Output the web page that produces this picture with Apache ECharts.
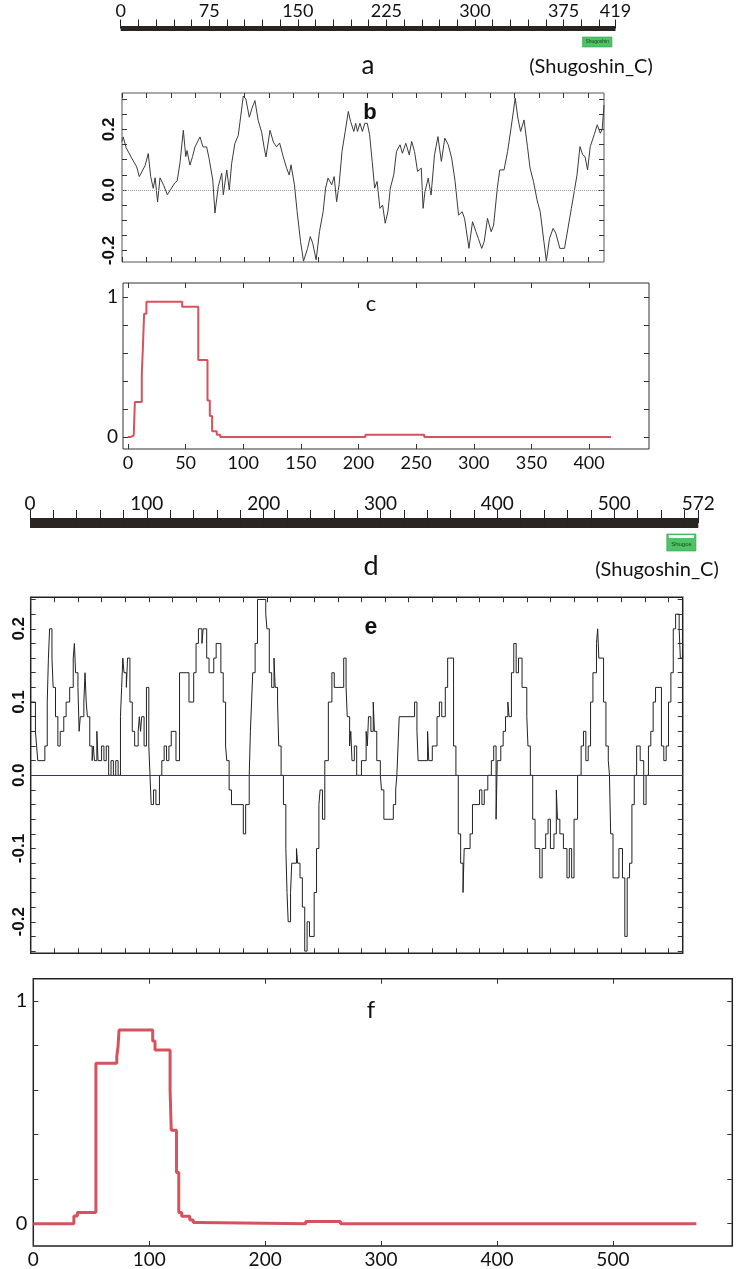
<!DOCTYPE html>
<html>
<head>
<meta charset="utf-8">
<script src="https://cdn.jsdelivr.net/npm/echarts@6/dist/echarts.min.js"></script>
<style>
html, body { margin: 0; padding: 0; background: #fff; }
#main { width: 737px; height: 1269px; }
</style>
</head>
<body>
<div id="main"></div>
<script>
var chart = echarts.init(document.getElementById('main'));

// protein lengths, bar tick labels and the Pfam domain
var aLength = 419;
var aLabels = [0, 75, 150, 225, 300, 375, 419];
var dLength = 572;
var dLabels = [0, 100, 200, 300, 400, 500, 572];
var domainName = 'Shugoshin_C';
var domainA = [391, 416];
var domainD = [545, 570];

// b: hydropathy profile [position, value]
var bPoints = [[0,0.16],[1,0.175],[3.3,0.14],[7.9,0.105],[12,0.076],[14.1,0.044],[18.8,0.08],[21.4,0.12],[23.4,0.044],[25.5,0.005],
  [27,0.04],[29,-0.04],[31,0.04],[34,0.015],[37,-0.016],[43,0.023],[45,0.03],[47.3,0.09],[50,0.197],[52,0.11],
  [53,0.13],[55.4,0.082],[57.5,0.11],[59.5,0.142],[63.6,0.175],[66,0.142],[69,0.142],[71,0.104],[74,0.033],[75.8,-0.076],
  [78.5,0.011],[81.3,0.055],[82.6,-0.016],[85.4,0.066],[87.5,0],[89.4,0.087],[92,0.153],[94.8,0.18],[98.9,0.31],[101,0.3],
  [103.8,0.24],[106,0.27],[108.4,0.295],[111,0.23],[113.9,0.19],[115.8,0.142],[117.4,0.109],[120.7,0.197],[123.4,0.158],[126,0.142],
  [128.5,0.155],[131.5,0.109],[134.3,0.071],[136.4,0.049],[137.8,0.083],[140.6,0.017],[142.8,-0.072],[145.6,-0.171],[148,-0.235],[151.3,-0.193],
  [153.5,-0.154],[155.5,-0.176],[158.3,-0.231],[161,-0.138],[164,-0.072],[166,0.006],[168,0.039],[171,0.017],[173,0.044],[175,-0.039],
  [177,0.017],[179.4,0.127],[182,0.193],[184.5,0.259],[186.4,0.226],[189,0.193],[190.5,0.22],[192,0.193],[194,0.22],[196,0.193],
  [198,0.22],[200,0.22],[201.9,0.182],[204,0.094],[206,0.006],[208,0.028],[210.3,-0.061],[212.5,-0.05],[214.6,-0.11],[216.8,-0.072],
  [218.8,0.006],[221.6,0.05],[223.8,0.127],[226.7,0.149],[228.6,0.121],[231.4,0.154],[234.2,0.116],[236.2,0.16],[238.5,0.127],[241,0.061],
  [244,0.072],[245.5,-0.061],[247,-0.006],[249.7,0.039],[252,-0.017],[254.8,0.116],[257.6,0.176],[260.4,0.094],[263.2,0.171],[266,0.149],
  [268.8,0.105],[271.6,0.028],[274.4,-0.083],[277.3,-0.072],[279.3,-0.094],[282.9,-0.193],[285.8,-0.105],[288.6,-0.138],[290.5,-0.16],[293.3,-0.193],
  [295.3,-0.171],[298,-0.094],[301,-0.138],[303,-0.116],[306,0.006],[308,0.066],[311.5,0.066],[314.4,0.127],[317.2,0.204],[320.6,0.303],
  [322.8,0.237],[325,0.193],[327.8,0.231],[330.6,0.143],[332.7,0.072],[335.5,0.028],[338.4,-0.033],[341,-0.072],[344,-0.171],[346,-0.235],
  [348.6,-0.16],[351.5,-0.127],[353.7,-0.143],[357,-0.193],[360.8,-0.193],[363.6,-0.127],[366.4,-0.061],[369.2,0.006],[371,0.05],[373.4,0.143],
  [375.6,0.116],[377.5,0.11],[379.6,0.066],[381.8,0.143],[385,0.182],[387.5,0.215],[390,0.187],[391.5,0.2],[393,0.28]];

// c: disorder probability, [start position, value] steps
var cSteps = [[0,0],[2,0.01],[5,0.02],[6,0.25],[12,0.45],[13,0.65],[14,0.88],[16,0.966],[47,0.93],[61,0.55],
  [69,0.26],[71,0.15],[73,0.04],[77,0.015],[80,0],[206,0.015],[257,0],[419,0]];

// e: hydropathy profile, [start position, value] steps
var eSteps = [[0,0.1],[4,0.06],[5,0.04],[6,0.02],[12,0.04],[14,0.1],[15,0.16],[16,0.2],[18,0.16],[19,0.12],
  [21,0.08],[23,0.04],[25,0.06],[28,0.08],[30,0.1],[33,0.12],[36,0.16],[37,0.18],[38,0.14],[40,0.12],
  [41,0.06],[42,0.08],[45,0.1],[46,0.14],[47,0.1],[48,0.08],[50,0.04],[52,0.02],[53,0.04],[54,0.02],
  [56,0.06],[57,0.02],[60,0.04],[62,0.02],[64,0.04],[66,0],[68,0.02],[70,0],[72,0.02],[74,0],
  [76,0.08],[77,0.12],[78,0.16],[79,0.14],[81,0.12],[82,0.16],[84,0.1],[86,0.06],[88,0.04],[91,0.06],
  [92,0.08],[93,0.06],[94,0.08],[96,0.04],[98,0.12],[100,0.04],[101,0],[102,-0.04],[104,-0.02],[106,-0.04],
  [109,0],[111,0.02],[113,0.04],[115,0.02],[117,0.04],[119,0.06],[123,0.02],[126,0.14],[134,0.1],[138,0.14],
  [140,0.18],[142,0.2],[145,0.18],[146,0.2],[149,0.16],[151,0.14],[155,0.16],[157,0.18],[161,0.14],[163,0.1],
  [165,0.04],[166,0.02],[168,-0.02],[170,-0.04],[180,-0.08],[182,-0.04],[185,0],[186,0.06],[187,0.1],[188,0.14],
  [190,0.18],[192,0.24],[199,0.22],[200,0.2],[202,0.14],[204,0.12],[206,0.16],[207,0.12],[209,0.1],[210,0.04],
  [212,0],[214,-0.04],[216,-0.1],[217,-0.16],[218,-0.2],[220,-0.16],[221,-0.12],[225,-0.1],[226,-0.12],[228,-0.14],
  [230,-0.18],[232,-0.24],[234,-0.2],[236,-0.22],[240,-0.16],[242,-0.1],[244,-0.04],[245,-0.02],[247,-0.06],[249,0.02],
  [252,0.1],[255,0.14],[257,0.12],[265,0.16],[267,0.12],[268,0.08],[270,0.04],[271,0.06],[272,0.02],[274,0.04],
  [276,0],[280,0.02],[284,0.06],[285,0.04],[286,0.08],[288,0.06],[290,0.1],[291,0.06],[293,0.02],[296,0],
  [297,-0.02],[299,-0.06],[307,-0.04],[309,-0.02],[310,0],[311,0.04],[312,0.08],[325,0.1],[327,0.06],[328,0.02],
  [336,0.06],[337,0.02],[340,0.04],[344,0.08],[346,0.1],[348,0.08],[351,0.12],[353,0.16],[358,0.04],[360,0],
  [362,-0.08],[364,-0.12],[366,-0.16],[367,-0.1],[372,-0.08],[374,-0.04],[380,-0.02],[382,-0.04],[384,-0.02],[387,0],
  [390,0.02],[392,0.04],[394,-0.06],[395,0.02],[398,0.04],[400,0.06],[402,0.08],[404,0.1],[405,0.08],[407,0.14],
  [409,0.18],[411,0.14],[413,0.16],[416,0.12],[420,0.08],[421,0.04],[423,0],[425,-0.06],[427,-0.1],[431,-0.14],
  [433,-0.1],[436,-0.08],[438,-0.06],[440,-0.1],[443,-0.08],[445,-0.02],[446,-0.06],[448,-0.08],[451,-0.1],[454,-0.14],
  [456,-0.1],[458,-0.14],[460,-0.06],[463,0],[466,0.04],[468,0.06],[470,0.02],[472,0.04],[474,0.1],[476,0.14],
  [479,0.18],[480,0.2],[481,0.16],[485,0.1],[487,0.04],[489,0.02],[490,0],[491,-0.08],[493,-0.14],[498,-0.1],
  [501,-0.14],[503,-0.22],[505,-0.14],[507,-0.12],[509,-0.04],[511,0],[513,0.04],[516,0.02],[519,-0.04],[521,0],
  [523,0.04],[525,0.06],[527,0.1],[529,0.12],[534,0.04],[536,0.02],[538,0.04],[540,0.1],[542,0.14],[544,0.2],
  [546,0.22],[549,0.2],[550,0.16],[552,0.18]];

// f: disorder probability, [start position, value] steps
var fSteps = [[0,0],[35,0.035],[38,0.05],[54,0.72],[72,0.75],[73,0.79],[74,0.87],[103,0.82],[105,0.78],[118,0.6],
  [119,0.42],[123.5,0.23],[125.5,0.05],[128,0.033],[135,0.017],[138,0.005],[143,0],[235,0.01],[265,0],[572,0]];

function seq(a, b, s) {
  var out = [];
  for (var v = a; v <= b + 1e-9; v += s) out.push(+v.toFixed(4));
  return out;
}

var frame = { show: true, borderColor: '#333', borderWidth: 1, backgroundColor: 'transparent' };
var grids = [
  { left: 120.7, top: 28.5, width: 494.8, height: 20 },
  Object.assign({ left: 122, top: 93, width: 482, height: 169 }, frame, { borderColor: '#555' }),
  Object.assign({ left: 123, top: 283, width: 526, height: 166 }, frame),
  { left: 30, top: 523, width: 668.3, height: 30 },
  Object.assign({ left: 30.7, top: 597.3, width: 652, height: 356 }, frame, { borderWidth: 1.5, borderColor: '#222' }),
  Object.assign({ left: 33.3, top: 978.7, width: 699, height: 268 }, frame, { borderWidth: 1.5, borderColor: '#222' })
];

function frameAxis(grid, position, min, max, ticks, labels, labelStyle) {
  return {
    type: 'value', gridIndex: grid, position: position, min: min, max: max,
    axisLine: { show: false, onZero: false },
    splitLine: { show: false },
    axisTick: { show: true, inside: true, length: 5, customValues: ticks, lineStyle: { color: '#333', width: 1 } },
    axisLabel: labels ? Object.assign({ show: true, customValues: labels, color: '#111' }, labelStyle) : { show: false }
  };
}

// ruler bar: the axis line is the protein bar, ticks above it
function rulerAxis(grid, len, step, labels, barWidth, tickLen, margin, fs) {
  return {
    type: 'value', gridIndex: grid, position: 'top', min: 0, max: len, interval: step,
    axisLine: { show: true, onZero: false, lineStyle: { color: '#2a2522', width: barWidth, cap: 'butt' } },
    axisTick: { show: true, inside: false, length: tickLen, lineStyle: { color: '#222', width: 1 } },
    axisLabel: { customValues: labels, margin: margin, color: '#111', fontFamily: 'Lato', fontSize: fs },
    splitLine: { show: false }, z: 3
  };
}

var sansBold = { fontFamily: 'Liberation Sans', fontWeight: 'bold', fontSize: 17 };
var calib = { fontFamily: 'Lato', fontSize: 18 };
var rot = function (v) { return v.toFixed(1); };

var xAxes = [
  rulerAxis(0, aLength, 15, aLabels, 5, 9, 8, 18),
  frameAxis(1, 'bottom', 0, 393, seq(0, 393, 20)),
  frameAxis(1, 'top', 0, 393, seq(0, 393, 20)),
  frameAxis(2, 'bottom', -4.3, 452, seq(0, 400, 50), seq(0, 400, 50), Object.assign({ margin: 5 }, calib)),
  frameAxis(2, 'top', -4.3, 452, seq(0, 400, 50)),
  rulerAxis(3, dLength, 20, dLabels, 10, 13, 10, 19),
  frameAxis(4, 'bottom', 0, 552, seq(0, 552, 20)),
  frameAxis(4, 'top', 0, 552, seq(0, 552, 20)),
  frameAxis(5, 'bottom', 0, 603, seq(0, 500, 100), seq(0, 500, 100), Object.assign({ margin: 4 }, calib, { fontSize: 19 })),
  frameAxis(5, 'top', 0, 603, seq(0, 500, 100))
];

var yAxes = [
  { type: 'value', gridIndex: 0, min: 0, max: 20, inverse: true, show: false },
  frameAxis(1, 'left', -0.238, 0.32, seq(-0.2, 0.3, 0.05), [-0.2, 0, 0.2], Object.assign({ rotate: 90, margin: 4, formatter: rot }, sansBold)),
  frameAxis(1, 'right', -0.238, 0.32, seq(-0.2, 0.3, 0.05)),
  frameAxis(2, 'left', -0.086, 1.1, seq(0, 1, 0.2), [0, 1], Object.assign({ margin: 5 }, calib, { fontSize: 19 })),
  frameAxis(2, 'right', -0.086, 1.1, seq(0, 1, 0.2)),
  { type: 'value', gridIndex: 3, min: 0, max: 30, inverse: true, show: false },
  frameAxis(4, 'left', -0.243, 0.243, seq(-0.24, 0.24, 0.02), [-0.2, -0.1, 0, 0.1, 0.2], Object.assign({ rotate: 90, margin: 3, formatter: rot }, sansBold)),
  frameAxis(4, 'right', -0.243, 0.243, seq(-0.24, 0.24, 0.02)),
  frameAxis(5, 'left', -0.1, 1.1, seq(0, 1, 0.2), [0, 1], Object.assign({ margin: 6 }, calib, { fontSize: 20 })),
  frameAxis(5, 'right', -0.1, 1.1, seq(0, 1, 0.2))
];

function domainRender(y0, y1, label, fs, strip) {
  return function (params, api) {
    var p0 = api.coord([api.value(0), y0]);
    var p1 = api.coord([api.value(1), y1]);
    var w = p1[0] - p0[0], h = p1[1] - p0[1];
    var kids = [
      { type: 'rect', shape: { x: p0[0], y: p0[1], width: w, height: h },
        style: { fill: '#4fc466', stroke: '#35a04e', lineWidth: 0.6 } },
      { type: 'text', style: { text: label, x: p0[0] + w / 2, y: p0[1] + h * (strip ? 0.6 : 0.5),
        align: 'center', verticalAlign: 'middle', fontSize: fs, fontFamily: 'Liberation Sans', fill: '#16401f' } }
    ];
    if (strip) {
      kids.splice(1, 0, { type: 'rect', shape: { x: p0[0] + 2, y: p0[1] + 1, width: w - 4, height: 3 },
        style: { fill: '#f2fbf3' } });
    }
    return { type: 'group', children: kids };
  };
}

var red = '#d6525d';

var series = [
  { type: 'custom', xAxisIndex: 0, yAxisIndex: 0, data: [domainA], encode: { x: [0, 1] }, silent: true,
    renderItem: domainRender(8.5, 18.5, 'Shugoshin', 5, false) },
  { type: 'custom', xAxisIndex: 5, yAxisIndex: 5, data: [domainD], encode: { x: [0, 1] }, silent: true,
    renderItem: domainRender(11, 28, 'Shugos', 6, true) },
  { type: 'line', xAxisIndex: 1, yAxisIndex: 1, data: bPoints, showSymbol: false,
    lineStyle: { color: '#3b3b3b', width: 1 },
    markLine: { silent: true, symbol: 'none', label: { show: false },
      lineStyle: { type: 'dotted', color: '#9a9a9a', width: 1 }, data: [{ yAxis: 0 }] } },
  { type: 'line', xAxisIndex: 3, yAxisIndex: 3, data: cSteps, step: 'end', showSymbol: false,
    lineStyle: { color: red, width: 2 } },
  { type: 'line', xAxisIndex: 6, yAxisIndex: 6, data: eSteps, step: 'end', showSymbol: false,
    lineStyle: { color: '#222', width: 1 },
    markLine: { silent: true, symbol: 'none', label: { show: false },
      lineStyle: { type: 'solid', color: '#2d3b72', width: 1.2 }, data: [{ yAxis: 0 }] } },
  { type: 'line', xAxisIndex: 8, yAxisIndex: 8, data: fSteps, step: 'end', showSymbol: false,
    lineStyle: { color: red, width: 3 } }
];

function txt(x, y, s, font) {
  return { type: 'text', x: x, y: y, silent: true,
    style: { text: s, font: font, fill: '#111', align: 'center', verticalAlign: 'middle' } };
}

var option = {
  animation: false,
  grid: grids,
  xAxis: xAxes,
  yAxis: yAxes,
  series: series,
  graphic: [
    txt(368, 66, 'a', '26px Lato'),
    txt(591, 67, '(' + domainName + ')', '20px Lato'),
    txt(370, 113, 'b', 'bold 22px "Liberation Sans"'),
    txt(371, 304, 'c', '22px Lato'),
    txt(371, 566, 'd', '27px Lato'),
    txt(657, 570, '(' + domainName + ')', '20px Lato'),
    txt(371, 628, 'e', 'bold 23px "Liberation Sans"'),
    txt(371, 1010, 'f', '24px Lato')
  ]
};

chart.setOption(option);
</script>
</body>
</html>
